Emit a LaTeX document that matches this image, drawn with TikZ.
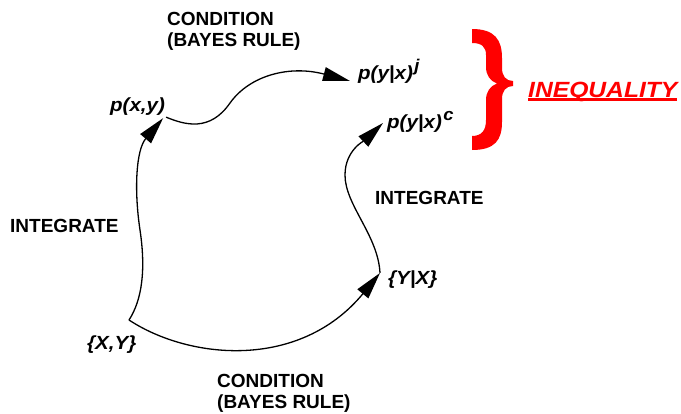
\documentclass[tikz,border=0pt]{standalone}
\usepackage{fontspec}
\setmainfont{Liberation Sans}
\newfontfamily\varfont[FakeStretch=1.08]{Liberation Sans}
\newfontfamily\ineqfont[FakeStretch=1.12]{Liberation Sans}
\usepackage{xcolor}
\usepackage{tikz}
\usetikzlibrary{arrows.meta,positioning,calc}
\definecolor{cred}{HTML}{FF0000}
\definecolor{ink}{HTML}{000000}
\newcommand{\upidx}[1]{\kern1.5pt\raisebox{8pt}{\fontsize{17}{17}\selectfont #1}}
\newcommand{\thickul}[1]{\setbox0\hbox{#1}\rlap{\rule[-4pt]{\wd0}{2.6pt}}\box0}

\begin{document}
\begin{tikzpicture}[x=1pt,y=-1pt,
  lab/.style={font=\fontsize{19}{20.7}\selectfont\bfseries,inner sep=0,align=left,color=ink},
  var/.style={font=\varfont\fontsize{19}{19}\selectfont\bfseries\itshape,inner sep=0,anchor=base west,color=ink},
  flow/.style={ink,line width=1.3pt,-{Triangle[length=27pt,width=14pt]}}]
  \useasboundingbox (0,0) rectangle (681,413);
  \node[var] (pxy) at (110,111) {p(x,y)};
  \node[var] (pyxj) at (358,79) {p(y|x)\upidx{j}};
  \node[var] (pyxc) at (387,128) {p(y|x)\upidx{c}};
  \node[var] (setyx) at (388,284) {\{Y|X\}};
  \node[var] (setxy) at (87,349) {\{X,Y\}};
  \node[lab,anchor=north west] (condtop) at (167,12) {CONDITION\\(BAYES RULE)};
  \node[lab,anchor=north west] (condbot) at (217,374) {CONDITION\\(BAYES RULE)};
  \node[lab,anchor=base west] (intleft) at (10,232) {INTEGRATE};
  \node[lab,anchor=base west] (intright) at (375,204) {INTEGRATE};
  \node[font=\ineqfont\fontsize{22}{22}\selectfont\bfseries\itshape,color=cred,inner sep=0,anchor=base west] (ineq) at (528,97) {\thickul{INEQUALITY}};
  \fill[cred] (472,29) .. controls (495,29) and (502,40) .. (502,58) -- (502,68)
    .. controls (502,76) and (506,81) .. (513,81) -- (513,86)
    .. controls (506,86) and (502,91) .. (502,99) -- (502,122)
    .. controls (502,140) and (495,150) .. (472,150) -- (472,136)
    .. controls (482,136) and (486,130) .. (486,120) -- (486,100)
    .. controls (486,92) and (490,86) .. (497,83.5)
    .. controls (490,81) and (486,75) .. (486,67) -- (486,55)
    .. controls (486,47) and (482,43) .. (472,43) -- cycle;
  \draw[flow] ([xshift=42pt,yshift=29pt]setxy.base west) .. controls (142,300) and (146,270) .. (140,230)
    .. controls (134,190) and (136,150) .. ([xshift=-2pt,yshift=-3pt]pxy.south east);
  \draw[flow] ([xshift=1pt,yshift=-2pt]pxy.south east) .. controls (185,125) and (210,132) .. (230,103)
    .. controls (250,75) and (290,65) .. ([xshift=-8pt,yshift=-2pt]pyxj.base west);
  \draw[flow] ([xshift=42pt,yshift=29pt]setxy.base west) .. controls (190,360) and (300,370) .. ([xshift=-8pt,yshift=11pt]setyx.base west);
  \draw[flow] ([xshift=-8pt,yshift=11pt]setyx.base west) .. controls (378,235) and (345,205) .. (345,175)
    .. controls (345,150) and (365,140) .. ([xshift=-4pt,yshift=5pt]pyxc.base west);
\end{tikzpicture}
\end{document}
